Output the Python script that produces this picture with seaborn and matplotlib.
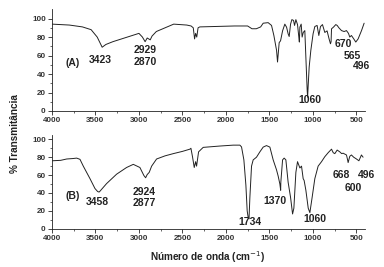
import matplotlib
matplotlib.use("Agg")
import matplotlib.pyplot as plt
import seaborn as sns
import pandas as pd

# Spectrum A
waveA = [4000, 3800, 3650, 3550, 3480, 3423, 3380, 3300, 3200, 3100, 3000, 2960, 2929, 2905, 2870, 2850,
         2800, 2700, 2600, 2450, 2400, 2375, 2360, 2348, 2335, 2320, 2300, 2100, 1900, 1750, 1700, 1650,
         1600, 1571, 1514, 1475, 1448, 1417, 1406, 1387, 1371, 1348, 1322, 1302, 1284, 1272, 1256, 1241,
         1222, 1210, 1195, 1176, 1161, 1155, 1149, 1134, 1123, 1110, 1092, 1080, 1065, 1060, 1052, 1042,
         1023, 997, 977, 951, 931, 912, 889, 862, 836, 813, 797, 790, 785, 760, 736, 720, 700, 670, 640,
         613, 590, 575, 556, 529, 506, 479, 440, 410]
transA = [94, 93, 91, 88, 80, 69, 72, 75, 78, 81, 84, 80, 75, 79, 77, 81,
          86, 90, 94, 93, 92, 90, 78, 84, 80, 90, 91, 91.5, 92, 92, 89, 89,
          91, 95, 95.6, 92.6, 81.7, 65.6, 53, 74, 76, 86.7, 94, 90.7, 83.5, 80.6, 94, 98.9,
          98, 92.6, 98.9, 93.5, 80, 74.6, 90.7, 94, 80, 85, 87, 58, 22.6, 15, 30, 47.6,
          65.6, 83.5, 91.4, 92.6, 81.7, 91.4, 93.5, 85, 86.7, 78, 72.7, 75, 88.9, 91, 93.5, 92.6, 90, 87, 86,
          87, 84, 80, 81.7, 78, 74.6, 78, 87, 95]

# Spectrum B
waveB = [4000, 3900, 3831, 3760, 3716, 3678, 3640, 3563, 3506, 3475, 3458, 3448, 3372, 3257, 3142, 3065,
         2989, 2943, 2923, 2905, 2882, 2854, 2797, 2700, 2605, 2500, 2414, 2402, 2383, 2364, 2348, 2337,
         2314, 2261, 2069, 1916, 1839, 1820, 1793, 1770, 1755, 1743, 1734, 1724, 1705, 1686, 1648, 1609,
         1571, 1533, 1494, 1456, 1418, 1399, 1379, 1370, 1368, 1348, 1330, 1310, 1284, 1256, 1233, 1218,
         1195, 1176, 1149, 1130, 1111, 1100, 1080, 1053, 1034, 1008, 977, 939, 900, 862, 824, 785, 765,
         747, 720, 690, 668, 652, 613, 600, 594, 575, 556, 530, 498, 470, 441, 422]
transB = [76, 76.5, 78, 78.5, 79, 77.6, 70, 56, 45, 41.6, 41, 42, 50.5, 61, 68.5, 72,
          68.5, 59.5, 57, 60.6, 63, 70, 78, 81.5, 84, 86.5, 89, 90, 80, 68.5, 75, 70,
          86, 91, 92.5, 93.5, 93.5, 91.5, 77, 48.8, 20, 12, 11, 35, 70, 77, 80, 86,
          91.3, 93, 91.3, 77, 66, 59, 50, 43, 52, 77, 79, 77, 52, 35, 16.5, 23,
          63, 75, 68, 70, 56, 54, 43, 23, 18, 35, 56, 70, 75, 80.6, 85, 89, 85,
          84, 88, 86, 84, 84.5, 82.5, 77, 74, 81, 82.5, 80, 78, 76, 82.5, 80]

# Peak labels: (text, x, y)
labelsA_text = ["(A)", "3423", "2929", "2870", "1060", "670", "565", "496"]
labelsA_x = [3759, 3448, 2931, 2931, 1034, 652, 548, 440]
labelsA_y = [52.4, 55.6, 66.3, 53.4, 11.8, 72.8, 59.5, 48.7]

labelsB_text = ["(B)", "3458", "2924", "2877", "1734", "1370", "1060", "668", "600", "496"]
labelsB_x = [3762, 3475, 2939, 2939, 1724, 1437, 977, 670, 537, 383]
labelsB_y = [36.2, 29.8, 41.6, 29.0, 7.5, 30.9, 11.2, 60.2, 45.2, 60.2]

xticks = [4000, 3500, 3000, 2500, 2000, 1500, 1000, 500]
xminor = [3750, 3250, 2750, 2250, 1750, 1250, 750]
yticks = [0, 20, 40, 60, 80, 100]
yminor = [10, 30, 50, 70, 90]

sns.set_style("ticks")
plt.rcParams['font.family'] = ['Liberation Sans', 'DejaVu Sans']

fig = plt.figure(figsize=(3.84, 2.67), dpi=100)
axA = fig.add_axes([0.1354, 0.5843, 0.8151, 0.3807])
axB = fig.add_axes([0.1354, 0.1434, 0.8151, 0.3515])

dfA = pd.DataFrame({"wave": waveA, "trans": transA})
dfB = pd.DataFrame({"wave": waveB, "trans": transB})

for ax, df, ytop, ltxt, lx, ly in [
    (axA, dfA, 110, labelsA_text, labelsA_x, labelsA_y),
    (axB, dfB, 105, labelsB_text, labelsB_x, labelsB_y),
]:
    sns.lineplot(data=df, x="wave", y="trans", ax=ax, color="#222222", linewidth=0.7,
                 sort=False, estimator=None)
    ax.set_xlim(4000, 400)
    ax.set_ylim(0, ytop)
    ax.set_xticks(xticks)
    ax.set_xticks(xminor, minor=True)
    ax.set_yticks(yticks)
    ax.set_yticks(yminor, minor=True)
    ax.set_xticklabels([str(v) for v in xticks], fontsize=5.8, fontweight="bold", color="#333333")
    ax.set_yticklabels([str(v) for v in yticks], fontsize=5.8, fontweight="bold", color="#333333")
    ax.tick_params(axis="both", which="major", direction="out", length=3, width=0.6, pad=1.5)
    ax.tick_params(axis="both", which="minor", direction="out", length=1.5, width=0.5)
    ax.set_xlabel("")
    ax.set_ylabel("")
    for s in ["top", "right"]:
        ax.spines[s].set_visible(False)
    for s in ["left", "bottom"]:
        ax.spines[s].set_linewidth(0.6)
        ax.spines[s].set_color("#222222")
    for t, x, y in zip(ltxt, lx, ly):
        ax.text(x, y, t, ha="center", va="center", fontsize=7.5, fontweight="bold",
                color="#222222", clip_on=False)

fig.text(0.038, 0.5, "% Transmitância", rotation=90, ha="center", va="center",
         fontsize=7.2, fontweight="bold", color="#222222")
fig.text(0.54, 0.038, "Número de onda (cm$^{-1}$)", ha="center", va="center",
         fontsize=7.2, fontweight="bold", color="#222222")

fig.savefig("out.png", dpi=100)
